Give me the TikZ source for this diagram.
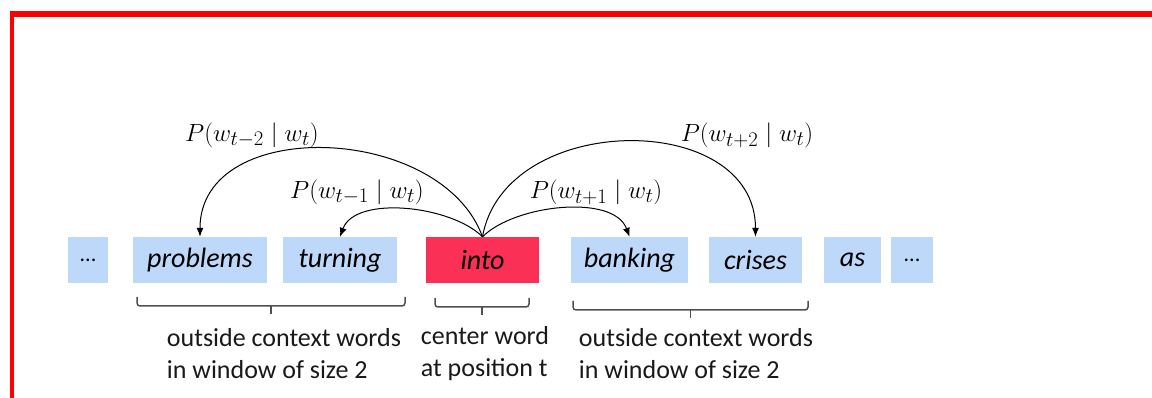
\documentclass[tikz,border=0pt]{standalone}
\usepackage{fontspec}
\setmainfont{Carlito}
\usepackage{amsmath}
\usetikzlibrary{positioning, arrows.meta}

\definecolor{ctxblue}{RGB}{190,216,250}
\definecolor{centerred}{RGB}{250,48,86}
\definecolor{framered}{RGB}{255,0,0}
\definecolor{bracegray}{RGB}{80,80,80}

% window bracket: left x, right x, top y, bottom y, tick y
\newcommand{\winbracket}[5]{%
  \draw[bracket] (#1,#3) -- (#1,#4) -- (#2,#4) -- (#2,#3);
  \draw[bracket] ({(#1+#2)/2},#4) -- ({(#1+#2)/2},#5);}

\begin{document}
\begin{tikzpicture}[x=1pt, y=-1pt,
    word/.style={fill=ctxblue, minimum height=46pt, inner sep=0pt, font=\fontsize{28}{32}\selectfont\itshape},
    dots/.style={word, font=\fontsize{22}{26}\selectfont},
    prob/.style={font=\fontsize{29}{32}\selectfont},
    caption/.style={align=left, text=black!90, font=\fontsize{26}{32}\selectfont},
    bracket/.style={draw=bracegray, line width=1.5pt, rounded corners=3pt},
    ctxarrow/.style={draw, line width=1pt, arrows = {-Latex[width=7pt, length=9pt]}}]
      \useasboundingbox (0,0) rectangle (1152,398);

      % red frame round the slide
      \draw[framered, line width=6pt] (10,14.5) -- (1152,14.5);
      \draw[framered, line width=4pt] (12,12) -- (12,398);

      \node[dots, minimum width=40pt] at (88,260) (dotsl) {...};
      \node[word, minimum width=134pt] at (200,260) (problems) {problems};
      \node[word, minimum width=114pt] at (340,260) (turning) {turning};
      \node[word, fill=centerred, minimum width=113pt] at (482.5,260) (into) {into};
      \node[word, minimum width=117pt] at (629.5,260) (banking) {banking};
      \node[word, minimum width=93pt] at (755.5,260) (crises) {crises};
      \node[word, minimum width=57pt] at (852.5,260) (as) {as};
      \node[dots, minimum width=42pt] at (912,260) (dotsr) {...};

      \draw[ctxarrow] (into.north) to[out=110, in=90, looseness=1.1] (problems.north);
      \draw[ctxarrow] (into.north) to[out=135, in=70, looseness=0.8] (turning.north);
      \draw[ctxarrow] (into.north) to[out=45, in=110, looseness=0.8] (banking.north);
      \draw[ctxarrow] (into.north) to[out=80, in=90, looseness=1.2] (crises.north);

      \node[prob] at (252,135) (pm2) {$P(w_{t-2}\mid w_t)$};
      \node[prob] at (357,192) (pm1) {$P(w_{t-1}\mid w_t)$};
      \node[prob] at (596,192) (pp1) {$P(w_{t+1}\mid w_t)$};
      \node[prob] at (747,135) (pp2) {$P(w_{t+2}\mid w_t)$};

      \winbracket{137}{405}{297}{306}{314}
      \winbracket{435}{529}{298}{307}{315}
      \winbracket{573}{808}{301}{310}{318}

      \node[caption] at (284,354) (ctxleft) {outside context words\\in window of size 2};
      \node[caption] at (485,354) (centertext) {center word\\at position t};
      \node[caption] at (696,354) (ctxright) {outside context words\\in window of size 2};
    \end{tikzpicture}
\end{document}
